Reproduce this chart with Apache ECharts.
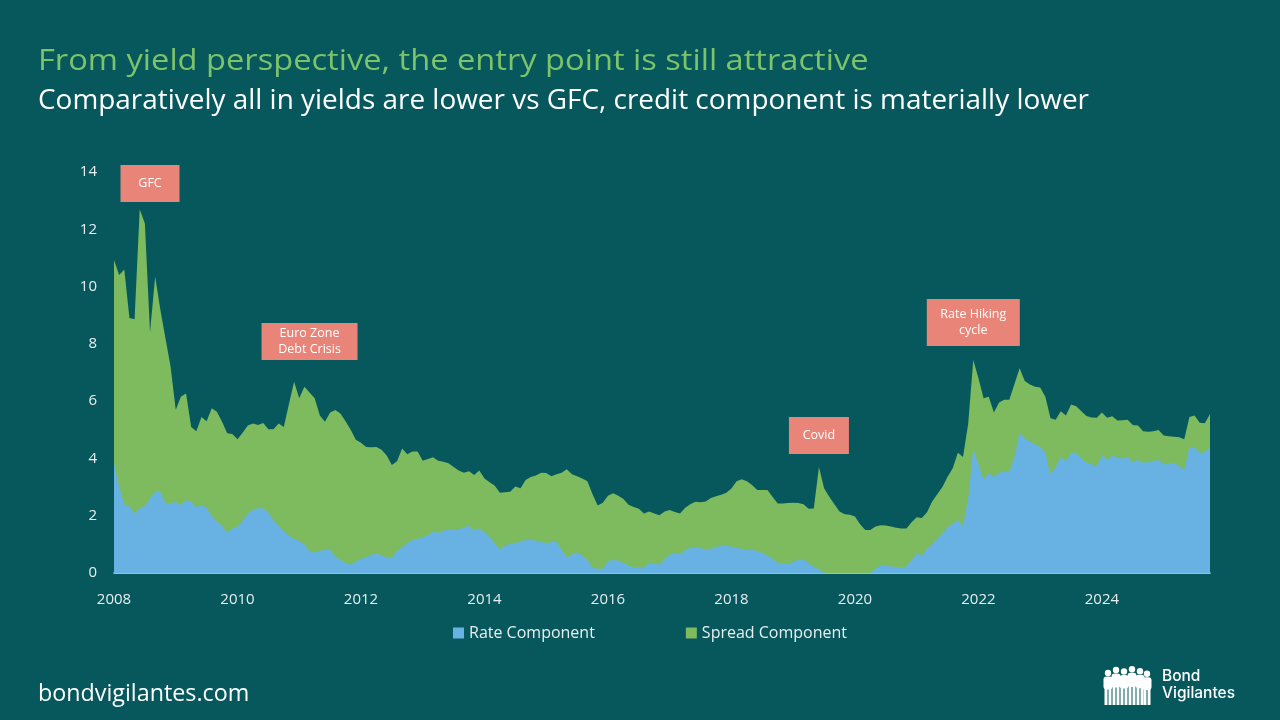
<!DOCTYPE html>
<html>
<head>
<meta charset="utf-8">
<script src="https://cdn.jsdelivr.net/npm/echarts@6/dist/echarts.min.js"></script>
<style>
html,body{margin:0;padding:0;background:#06585d;}
#chart{width:1280px;height:720px;}
</style>
</head>
<body>
<div id="chart"></div>
<script>
// Monthly observations, Jan 2008 .. Oct 2025
const startYear = 2008, endYear = 2025, endMonth = 10;
const tickYears = ['2008','2010','2012','2014','2016','2018','2020','2022','2024'];

// All-in yield (top of green area), %
const allInYield = [
10.93,10.4,10.6,8.9,8.86,12.7,12.2,8.4,10.35,9.2,8.2,7.2,
5.7,6.15,6.27,5.1,4.95,5.45,5.3,5.75,5.63,5.28,4.88,4.85,
4.67,4.9,5.15,5.22,5.17,5.24,5.02,5.02,5.22,5.1,5.9,6.68,
6.1,6.5,6.3,6.1,5.5,5.28,5.6,5.69,5.57,5.3,5.0,4.65,
4.55,4.4,4.39,4.4,4.3,4.1,3.77,3.9,4.35,4.15,4.24,4.24,
3.92,3.98,4.04,3.92,3.88,3.83,3.7,3.58,3.5,3.55,3.42,3.58,
3.3,3.17,3.05,2.8,2.82,2.84,3.02,2.96,3.25,3.35,3.4,3.5,
3.49,3.38,3.45,3.5,3.62,3.45,3.38,3.3,3.2,2.75,2.36,2.45,
2.7,2.78,2.7,2.58,2.38,2.3,2.24,2.08,2.15,2.08,2.02,2.15,
2.2,2.13,2.08,2.28,2.4,2.49,2.47,2.5,2.62,2.68,2.73,2.8,
2.95,3.2,3.27,3.2,3.07,2.9,2.9,2.9,2.65,2.43,2.43,2.44,
2.45,2.44,2.4,2.24,2.25,3.7,2.96,2.66,2.4,2.15,2.05,2.03,
1.97,1.7,1.5,1.5,1.62,1.67,1.66,1.62,1.58,1.55,1.55,1.77,
1.95,1.92,2.12,2.5,2.75,3.0,3.36,3.66,4.2,4.05,5.2,7.44,
6.8,6.1,6.15,5.6,5.95,6.05,6.05,6.6,7.15,6.7,6.58,6.5,
6.48,6.15,5.4,5.35,5.65,5.5,5.88,5.82,5.65,5.48,5.43,5.42,
5.6,5.42,5.47,5.32,5.33,5.35,5.17,5.15,4.95,4.93,4.95,4.99,
4.8,4.77,4.76,4.74,4.67,5.45,5.5,5.25,5.23,5.55
];

// Rate component (blue area), %
const rateComponent = [
3.83,3.0,2.4,2.32,2.08,2.25,2.33,2.6,2.84,2.84,2.44,2.44,
2.48,2.37,2.55,2.5,2.3,2.37,2.27,2.0,1.8,1.65,1.4,1.55,
1.62,1.82,2.08,2.2,2.26,2.26,2.1,1.85,1.65,1.45,1.3,1.2,
1.12,1.0,0.75,0.72,0.78,0.8,0.82,0.55,0.47,0.35,0.3,0.4,
0.5,0.56,0.62,0.7,0.6,0.55,0.52,0.78,0.9,1.05,1.15,1.2,
1.25,1.32,1.44,1.4,1.48,1.5,1.5,1.52,1.6,1.65,1.48,1.56,
1.42,1.25,1.05,0.82,0.95,1.02,1.05,1.1,1.15,1.17,1.12,1.08,
1.05,1.07,1.09,0.8,0.55,0.65,0.72,0.62,0.45,0.18,0.15,0.15,
0.42,0.45,0.43,0.35,0.25,0.2,0.2,0.2,0.37,0.33,0.3,0.5,
0.65,0.68,0.65,0.8,0.88,0.9,0.88,0.8,0.85,0.92,0.94,0.98,
0.92,0.88,0.84,0.8,0.8,0.77,0.7,0.6,0.5,0.36,0.32,0.33,
0.38,0.45,0.48,0.33,0.22,0.12,0.01,0,0,0,0,0,
0,0,0,0,0.17,0.25,0.26,0.23,0.22,0.2,0.22,0.45,
0.68,0.6,0.85,1.0,1.2,1.4,1.6,1.72,1.85,1.65,2.6,4.35,
3.8,3.25,3.5,3.35,3.5,3.55,3.55,4.05,4.9,4.7,4.6,4.48,
4.42,4.2,3.45,3.7,4.05,3.9,4.2,4.2,4.0,3.85,3.8,3.72,
4.1,3.95,4.1,4.02,4.0,4.07,3.85,3.95,3.85,3.87,3.9,3.95,
3.78,3.82,3.83,3.75,3.6,4.4,4.37,4.2,4.22,4.4
];

// Event annotations: [label, month index, y level, box width, box height]
const annotations = [
  ['GFC', 7, 13.6, 59, 37],
  ['Euro Zone\nDebt Crisis', 38, 8.08, 96, 37],
  ['Covid', 137, 4.8, 60, 37],
  ['Rate Hiking\ncycle', 167, 8.75, 93, 47]
];

const months = [];
for (let y = startYear; y <= endYear; y++) {
  for (let m = 1; m <= 12; m++) {
    if (y === endYear && m > endMonth) break;
    months.push(y + '-' + (m < 10 ? '0' + m : m));
  }
}

const FONT = '"Open Sans", Lato, sans-serif';
const chart = echarts.init(document.getElementById('chart'));

// Simple silhouette logo
const logo = [];
const figs = [[1108,0.92],[1116,1.0],[1124,0.96],[1132,1.02],[1140,0.97],[1147,0.9]];
figs.forEach(([cx, s]) => {
  const top = 705 - 38 * s;
  logo.push({type:'circle', shape:{cx:cx, cy:top + 3, r:3.2}, style:{fill:'#ffffff'}});
  logo.push({type:'rect', shape:{x:cx-4.5, y:top+6.5, width:9, height:14*s, r:3}, style:{fill:'#ffffff'}});
  logo.push({type:'rect', shape:{x:cx-3.5, y:top+6.5+13*s, width:3, height:705-(top+6.5+13*s)}, style:{fill:'#ffffff'}});
  logo.push({type:'rect', shape:{x:cx+0.5, y:top+6.5+13*s, width:3, height:705-(top+6.5+13*s)}, style:{fill:'#ffffff'}});
});

const headings = [
  {type: 'text', x: 38, y: 47, scaleX: 1.125,
   style: {text: 'From yield perspective, the entry point is still attractive', fill: '#7cc36a',
           font: '29px "Open Sans", sans-serif', verticalAlign: 'top', align: 'left'}},
  {type: 'text', x: 38, y: 87.5, scaleX: 1.054,
   style: {text: 'Comparatively all in yields are lower vs GFC, credit component is materially lower', fill: '#ffffff',
           font: '26.5px "Open Sans", sans-serif', verticalAlign: 'top', align: 'left'}},
  {type: 'text', x: 38, y: 683,
   style: {text: 'bondvigilantes.com', fill: '#ffffff', font: '23.3px "Open Sans", sans-serif', verticalAlign: 'top', align: 'left'}},
  {type: 'text', x: 1162, y: 668, style: {text: 'Bond', fill: '#ffffff', font: '500 15.5px Inter, sans-serif'}},
  {type: 'text', x: 1162, y: 685, style: {text: 'Vigilantes', fill: '#ffffff', font: '500 15.5px Inter, sans-serif'}}
];

chart.setOption({
  backgroundColor: '#06585d',
  animation: false,
  textStyle: {fontFamily: FONT},
  legend: {
    data: ['Rate Component', 'Spread Component'],
    top: 625, left: 453, padding: 0,
    itemWidth: 11, itemHeight: 11, itemGap: 91, icon: 'rect',
    textStyle: {color: '#e8eef0', fontSize: 16, fontFamily: FONT}
  },
  grid: {left: 114, right: 70, top: 172, bottom: 147, containLabel: false},
  xAxis: {
    type: 'category', data: months, boundaryGap: false,
    axisTick: {show: false},
    axisLine: {show: true, lineStyle: {color: '#c4e8f2', width: 1.5}},
    axisLabel: {
      color: '#e8eef0', fontSize: 15, margin: 19, fontFamily: FONT,
      interval: (i, v) => v.slice(5) === '01' && tickYears.indexOf(v.slice(0,4)) >= 0,
      formatter: v => v.slice(0,4)
    },
    splitLine: {show: false}
  },
  yAxis: {
    type: 'value', min: 0, max: 14, interval: 2,
    axisLine: {show: false}, axisTick: {show: false}, splitLine: {show: false},
    axisLabel: {color: '#e8eef0', fontSize: 15, margin: 17, fontFamily: FONT}
  },
  series: [
    {
      name: 'Spread Component', type: 'line', data: allInYield,
      symbol: 'none', lineStyle: {width: 0}, itemStyle: {color: '#7dbb5e'},
      areaStyle: {color: '#7dbb5e', opacity: 1},
      markPoint: {
        symbol: 'rect',
        data: annotations.map(a => ({
          coord: [a[1], a[2]], symbolSize: [a[3], a[4]], value: a[0],
          itemStyle: {color: '#e88478'},
          label: {show: true, position: 'inside', formatter: a[0], color: '#ffffff', fontSize: 12.5, lineHeight: 16, fontFamily: FONT}
        }))
      }
    },
    {
      name: 'Rate Component', type: 'line', data: rateComponent,
      symbol: 'none', lineStyle: {width: 0}, itemStyle: {color: '#68b2e3'},
      areaStyle: {color: '#68b2e3', opacity: 1}
    }
  ],
  graphic: logo.concat(headings)
});
</script>
</body>
</html>
